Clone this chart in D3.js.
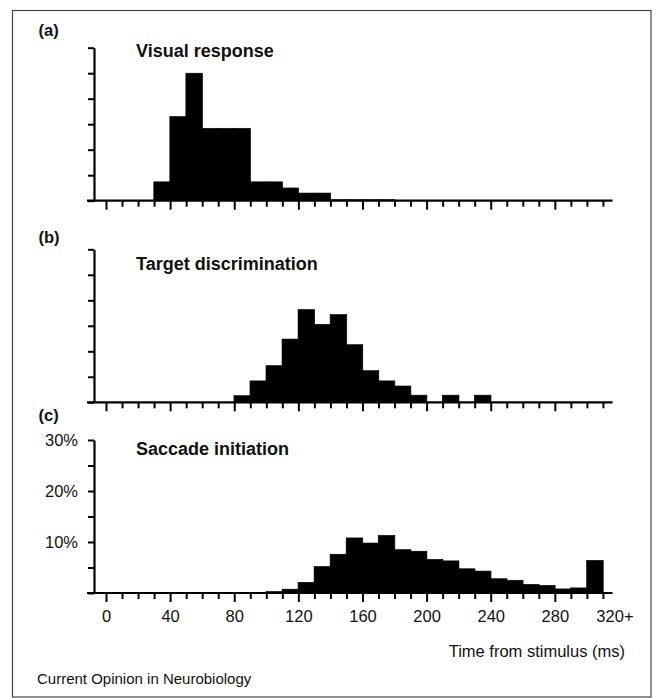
<!DOCTYPE html>
<html>
<head>
<meta charset="utf-8">
<script src="https://cdn.jsdelivr.net/npm/d3@7"></script>
<style>
  html, body { margin: 0; padding: 0; background: #fff; }
  svg { display: block; }
  text { font-family: "Liberation Sans", Arial, Helvetica, sans-serif; fill: #111; }
</style>
</head>
<body>
<svg id="chart" width="656" height="698"></svg>
<script>
// ---- data (percent of trials per 10 ms bin, bin start in ms) ----
const binStarts = d3.range(0, 320, 10);
const visualResponse = [0,0,0,3.7,16.5,25,14.2,14.2,14.2,3.7,3.7,2.5,1.5,1.5,0.2,0.2,0.2,0.2,0,0,0,0,0,0,0,0,0,0,0,0,0,0];
const targetDiscrimination = [0,0,0,0,0,0,0,0,1.3,4.2,7.2,12.4,18.2,15.3,17.2,11.3,6.2,4.2,3.2,1.4,0,1.4,0,1.4,0,0,0,0,0,0,0,0];
const saccadeInitiation = [0,0,0,0,0,0,0,0,0,0,0.3,0.75,2.1,5.2,7.6,10.8,9.8,11.3,8.5,8.2,6.6,6.3,4.75,4.3,2.8,2.5,1.7,1.5,0.8,1.0,6.4,0];
const panelLetters = ["(a)", "(b)", "(c)"];
const panelTitles = ["Visual response", "Target discrimination", "Saccade initiation"];
const xTickLabels = ["0","40","80","120","160","200","240","280"];
const xLastLabel = "320+";
const yTickLabels = [10, 20, 30];
const xAxisTitle = "Time from stimulus (ms)";
const footer = "Current Opinion in Neurobiology";

// ---- layout ----
const svg = d3.select("#chart");
const series = [visualResponse, targetDiscrimination, saccadeInitiation];
const panelBase = [200.7, 402.3, 593];
const panelHeight = 153;
const axisX = 94;
const letterY = [35.5, 243, 421];
const titleY = [56.7, 270, 455];

const x = d3.scaleLinear().domain([0, 320]).range([106, 106 + 1.603 * 320]);

// frame
svg.append("rect")
  .attr("x", 12.5).attr("y", 10.5)
  .attr("width", 638.5).attr("height", 686.5)
  .attr("fill", "none").attr("stroke", "#444").attr("stroke-width", 1.2);

series.forEach((vals, i) => {
  const base = panelBase[i];
  const y = d3.scaleLinear().domain([0, 30]).range([base, base - panelHeight]);
  const g = svg.append("g");

  // bars
  g.selectAll("rect.bar")
    .data(binStarts.map((b, k) => ({ b, v: vals[k] })).filter(d => d.v > 0))
    .join("rect")
    .attr("class", "bar")
    .attr("x", d => x(d.b) - 0.3)
    .attr("width", d => x(d.b + 10) - x(d.b) + 0.6)
    .attr("y", d => y(d.v))
    .attr("height", d => base - y(d.v))
    .attr("fill", "#000")
    .attr("stroke", "#000")
    .attr("stroke-width", 0.6);

  // y axis
  const yAxis = d3.axisLeft(y)
    .tickValues(d3.range(0, 31, 5))
    .tickSize(6)
    .tickSizeOuter(0)
    .tickPadding(10)
    .tickFormat(d => (i === 2 && yTickLabels.includes(d)) ? d + "%" : "");
  const ya = g.append("g").attr("transform", `translate(${axisX},0)`).call(yAxis);
  ya.select(".domain").attr("stroke", "#000").attr("stroke-width", 2.2);
  ya.selectAll(".tick line").attr("stroke", "#000").attr("stroke-width", 2);
  ya.selectAll(".tick text").attr("font-size", 16.5).attr("fill", "#111")
    .attr("font-family", "'Liberation Sans', Arial, sans-serif");

  // baseline
  g.append("line")
    .attr("x1", axisX - 7).attr("x2", x(316))
    .attr("y1", base).attr("y2", base)
    .attr("stroke", "#000").attr("stroke-width", 2.2);

  // minor x ticks
  const minor = d3.axisBottom(x)
    .tickValues(d3.range(0, 311, 10).filter(v => v % 40 !== 0))
    .tickSize(6).tickSizeOuter(0).tickFormat("");
  const mi = g.append("g").attr("transform", `translate(0,${base})`).call(minor);
  mi.select(".domain").remove();
  mi.selectAll(".tick line").attr("stroke", "#000").attr("stroke-width", 2);

  // major x ticks
  const major = d3.axisBottom(x)
    .tickValues(d3.range(0, 281, 40))
    .tickSize(9).tickSizeOuter(0).tickPadding(8)
    .tickFormat((d, k) => i === 2 ? xTickLabels[k] : "");
  const ma = g.append("g").attr("transform", `translate(0,${base})`).call(major);
  ma.select(".domain").remove();
  ma.selectAll(".tick line").attr("stroke", "#000").attr("stroke-width", 2);
  ma.selectAll(".tick text").attr("font-size", 16.5).attr("fill", "#111")
    .attr("font-family", "'Liberation Sans', Arial, sans-serif");

  if (i === 2) {
    g.append("text")
      .attr("x", x(317.5)).attr("y", base + 9 + 8)
      .attr("dy", "0.71em")
      .attr("text-anchor", "middle")
      .attr("font-size", 16.5)
      .text(xLastLabel);
  }

  // panel letter
  svg.append("text")
    .attr("x", 38.5).attr("y", letterY[i])
    .attr("font-size", 16.5).attr("font-weight", "bold")
    .text(panelLetters[i]);

  // title
  svg.append("text")
    .attr("x", 136).attr("y", titleY[i])
    .attr("font-size", 18).attr("font-weight", "bold")
    .text(panelTitles[i]);
});

svg.append("text")
  .attr("x", 625).attr("y", 657)
  .attr("text-anchor", "end")
  .attr("font-size", 16.5)
  .text(xAxisTitle);

svg.append("text")
  .attr("x", 37).attr("y", 684)
  .attr("font-size", 15)
  .text(footer);
</script>
</body>
</html>
